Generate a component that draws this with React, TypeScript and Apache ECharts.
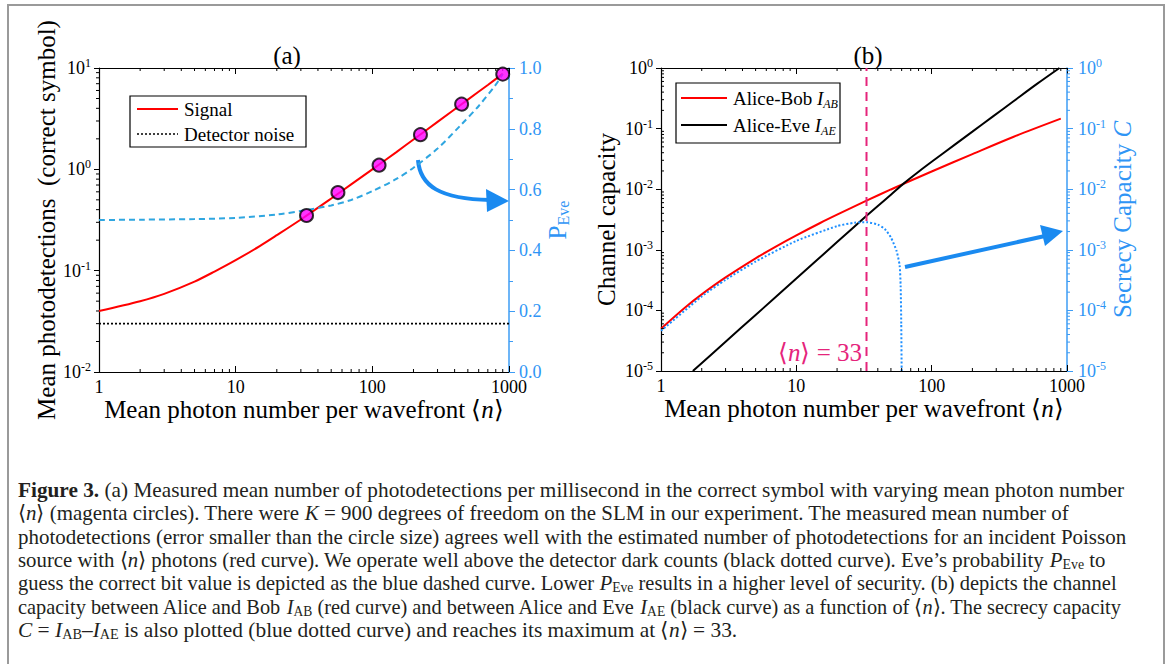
import React, { useEffect, useRef } from 'react';
import * as echarts from 'echarts';

const FONT = 'Liberation Serif';

// ---------- Panel (a) data ----------
const nSignal = [1, 2, 3, 5, 7, 10, 15, 20, 30, 50, 70, 100, 150, 200, 300, 500, 700, 900];
const signal = [0.04, 0.05, 0.059, 0.078, 0.098, 0.127, 0.175, 0.224, 0.32, 0.515, 0.71, 1.0, 1.48, 1.97, 2.94, 4.88, 6.8, 8.76];
const nMeasured = [33, 56, 112, 225, 450, 900];
const measured = [0.35, 0.59, 1.1, 2.2, 4.4, 8.7];
const nNoise = [1, 1000];
const noise = [0.03, 0.03];
const nEve = [1, 2, 5, 10, 20, 33, 50, 70, 100, 150, 200, 300, 450, 600, 800, 900];
const pEve = [0.5, 0.501, 0.503, 0.507, 0.518, 0.533, 0.548, 0.566, 0.595, 0.635, 0.672, 0.735, 0.815, 0.875, 0.945, 0.98];

// ---------- Panel (b) data ----------
const nAB = [1, 1.5, 2, 3, 5, 7, 10, 15, 20, 33, 50, 62.6, 100, 200, 400, 900];
const iAB = [5.0e-5, 1.11e-4, 1.84e-4, 3.5e-4, 7.24e-4, 1.12e-3, 1.73e-3, 2.77e-3, 3.8e-3, 6.47e-3, 9.9e-3, 0.0124, 0.0196, 0.038, 0.0728, 0.146];
const nAE = [1.72, 3, 5, 10, 20, 33, 50, 62.6, 80, 100, 150, 200, 284, 400, 600, 880];
const iAE = [1e-5, 3.04e-5, 8.4e-5, 3.35e-4, 1.34e-3, 3.63e-3, 8.1e-3, 0.0126, 0.0194, 0.0283, 0.0555, 0.0891, 0.159, 0.28, 0.546, 1.0];
const nC = [1, 2, 3, 5, 10, 20, 27, 33, 40, 45, 50, 55, 58, 59, 59.6, 60];
const secrecy = [4.6e-5, 1.7e-4, 3.2e-4, 6.4e-4, 1.4e-3, 2.46e-3, 2.8e-3, 2.85e-3, 2.6e-3, 2.2e-3, 1.6e-3, 9.6e-4, 5.5e-4, 2.5e-4, 6e-5, 1e-5];
const nPeak = 33;
const peakSpan = [1e-5, 1];

// ---------- ticks ----------
const xTickLabels = ['1', '10', '100', '1000'];
const minorMult = [2, 3, 4, 5, 6, 7, 8, 9];
const decadesX = [1, 10, 100];
const decadesYa = [0.01, 0.1, 1];
const decadesYb = [1e-5, 1e-4, 1e-3, 1e-2, 1e-1];

const BLUE_AX = '#3d9cf5';
const BLUE_TXT = '#2f95f5';

const expRich = (color: string) => ({
  b: { fontFamily: FONT, fontSize: 18, color, lineHeight: 22 },
  s: { fontFamily: FONT, fontSize: 12, color, verticalAlign: 'top', lineHeight: 12 },
});
const expFmt = (v: number) => `{b|10}{s|${Math.round(Math.log10(v))}}`;
const xFmt = (v: number) => xTickLabels[Math.round(Math.log10(v))] ?? '';

const minorVals = (dec: number[]) => dec.flatMap((d) => minorMult.map((m) => m * d));

function tickSeries(xi: number, yi: number, pts: number[][], dx: number, dy: number, color: string) {
  return {
    type: 'custom',
    xAxisIndex: xi,
    yAxisIndex: yi,
    silent: true,
    clip: false,
    z: 6,
    renderItem: (_p: any, api: any) => {
      const c = api.coord([api.value(0), api.value(1)]);
      return {
        type: 'line',
        shape: { x1: c[0], y1: c[1], x2: c[0] + dx, y2: c[1] + dy },
        style: { stroke: color, lineWidth: 1 },
      };
    },
    data: pts,
  };
}

const xName = {
  name: '{a|Mean photon number per wavefront ⟨}{i|n}{a|⟩}',
  nameLocation: 'middle',
  nameGap: 23,
  nameTextStyle: {
    fontFamily: FONT,
    rich: {
      a: { fontFamily: FONT, fontSize: 25, color: '#000' },
      i: { fontFamily: FONT, fontSize: 25, fontStyle: 'italic', color: '#000' },
    },
  },
};

function xAxisBottom(grid: number) {
  return {
    type: 'log', logBase: 10, gridIndex: grid, min: 1, max: 1000, position: 'bottom',
    axisLine: { show: true, lineStyle: { color: '#000', width: 1.2 } },
    axisTick: { show: true, inside: true, length: 6, lineStyle: { color: '#000' } },
    axisLabel: { formatter: xFmt, fontFamily: FONT, fontSize: 18, color: '#000', margin: 6 },
    splitLine: { show: false },
    ...xName,
  };
}
function xAxisTop(grid: number) {
  return {
    type: 'log', logBase: 10, gridIndex: grid, min: 1, max: 1000, position: 'top',
    axisLine: { show: true, lineStyle: { color: '#000', width: 1.2 } },
    axisTick: { show: true, inside: true, length: 6, lineStyle: { color: '#000' } },
    axisLabel: { show: false },
    splitLine: { show: false },
  };
}

const CAP = 21;
const capRich: any = {
  r: { fontSize: CAP, fontFamily: FONT, fill: '#231f20', lineHeight: 23 },
  b: { fontSize: CAP, fontFamily: FONT, fontWeight: 'bold', fill: '#231f20', lineHeight: 23 },
  i: { fontSize: CAP, fontFamily: FONT, fontStyle: 'italic', fill: '#231f20', lineHeight: 23 },
  s: { fontSize: 14, fontFamily: FONT, fill: '#231f20', lineHeight: 12, verticalAlign: 'bottom' },
};
const captionLines = [
  '{b|Figure 3.}{r| (a) Measured mean number of photodetections per millisecond in the correct symbol with varying mean photon number}',
  '{r|⟨}{i|n}{r|⟩ (magenta circles). There were }{i|K}{r| = 900 degrees of freedom on the SLM in our experiment. The measured mean number of}',
  '{r|photodetections (error smaller than the circle size) agrees well with the estimated number of photodetections for an incident Poisson}',
  '{r|source with ⟨}{i|n}{r|⟩ photons (red curve). We operate well above the detector dark counts (black dotted curve). Eve’s probability }{i|P}{s|Eve}{r| to}',
  '{r|guess the correct bit value is depicted as the blue dashed curve. Lower }{i|P}{s|Eve}{r| results in a higher level of security. (b) depicts the channel}',
  '{r|capacity between Alice and Bob }{i|I}{s|AB}{r| (red curve) and between Alice and Eve }{i|I}{s|AE}{r| (black curve) as a function of ⟨}{i|n}{r|⟩. The secrecy capacity}',
  '{i|C}{r| = }{i|I}{s|AB}{r|–}{i|I}{s|AE}{r| is also plotted (blue dotted curve) and reaches its maximum at ⟨}{i|n}{r|⟩ = 33.}',
];
const captionLeft = 18;
const captionRight = [1125, 1070, 1127, 1106, 1117, 1121, 737];

function richWidth(line: string, rich: any): number {
  const canvas = document.createElement('canvas');
  const ctx = canvas.getContext('2d');
  if (!ctx) return 0;
  let w = 0;
  const re = /\{(\w+)\|([^}]*)\}/g;
  let m: RegExpExecArray | null;
  while ((m = re.exec(line))) {
    const s = rich[m[1]];
    ctx.font = `${s.fontStyle || 'normal'} ${s.fontWeight || 'normal'} ${s.fontSize}px "${s.fontFamily}"`;
    w += ctx.measureText(m[2]).width;
  }
  return w;
}

function txt(x: number, y: number, text: string, size: number, extra: any = {}, align = 'left') {
  return {
    type: 'text', x, y, silent: true,
    style: {
      text, fontFamily: FONT, fontSize: size, fill: '#000',
      align, textAlign: align, verticalAlign: 'middle', textVerticalAlign: 'middle',
      ...extra,
    },
  };
}

export default function App() {
  const ref = useRef<HTMLDivElement>(null);
  useEffect(() => {
    const chart = echarts.init(ref.current!, null, { renderer: 'svg' });
    const legendRich = {
      a: { fontFamily: FONT, fontSize: 19, fill: '#000', lineHeight: 24 },
      i: { fontFamily: FONT, fontSize: 19, fontStyle: 'italic', fill: '#000', lineHeight: 24 },
      s: { fontFamily: FONT, fontSize: 12, fontStyle: 'italic', fill: '#000', lineHeight: 12, verticalAlign: 'bottom' },
    };
    const captionEls = captionLines.map((t, i) => {
      const w = richWidth(t, capRich);
      const sx = w > 0 ? (captionRight[i] - captionLeft) / w : 1;
      return {
        type: 'text', x: captionLeft, y: 490 + i * 23.33, scaleX: sx, silent: true,
        style: { text: t, rich: capRich, align: 'left', textAlign: 'left', verticalAlign: 'middle', textVerticalAlign: 'middle' },
      };
    });
    const option: any = {
      animation: false,
      backgroundColor: '#ffffff',
      textStyle: { fontFamily: FONT },
      grid: [
        { left: 99, top: 68, width: 410, height: 304, outerBoundsMode: 'none' },
        { left: 661, top: 68, width: 406, height: 303, outerBoundsMode: 'none' },
      ],
      xAxis: [xAxisBottom(0), xAxisTop(0), xAxisBottom(1), xAxisTop(1)],
      yAxis: [
        {
          type: 'log', logBase: 10, gridIndex: 0, min: 0.01, max: 10, position: 'left',
          axisLine: { show: true, lineStyle: { color: '#000', width: 1.2 } },
          axisTick: { show: true, inside: false, length: 5, lineStyle: { color: '#000' } },
          axisLabel: { formatter: expFmt, fontFamily: FONT, rich: expRich('#000'), margin: 8 },
          splitLine: { show: false },
          name: 'Mean photodetections  (correct symbol)',
          nameLocation: 'middle', nameGap: 40,
          nameTextStyle: { fontFamily: FONT, fontSize: 25, color: '#000' },
        },
        {
          type: 'value', gridIndex: 0, min: 0, max: 1, interval: 0.2, position: 'right',
          axisLine: { show: true, lineStyle: { color: BLUE_AX, width: 1.5 } },
          axisTick: { show: true, inside: false, length: 6, lineStyle: { color: BLUE_AX } },
          minorTick: { show: true, splitNumber: 2, length: 4, lineStyle: { color: BLUE_AX } },
          axisLabel: { formatter: (v: number) => v.toFixed(1), fontFamily: FONT, fontSize: 18, color: BLUE_TXT, margin: 10 },
          splitLine: { show: false },
          name: '{p|P}{s|Eve}',
          nameLocation: 'middle', nameGap: 34,
          nameTextStyle: {
            fontFamily: FONT,
            rich: {
              p: { fontFamily: FONT, fontSize: 25, color: BLUE_TXT, lineHeight: 28 },
              s: { fontFamily: FONT, fontSize: 16, color: BLUE_TXT, verticalAlign: 'bottom', lineHeight: 14 },
            },
          },
        },
        {
          type: 'log', logBase: 10, gridIndex: 1, min: 1e-5, max: 1, position: 'left',
          axisLine: { show: true, lineStyle: { color: '#000', width: 1.2 } },
          axisTick: { show: true, inside: false, length: 5, lineStyle: { color: '#000' } },
          axisLabel: { formatter: expFmt, fontFamily: FONT, rich: expRich('#000'), margin: 8 },
          splitLine: { show: false },
          name: 'Channel capacity',
          nameLocation: 'middle', nameGap: 42,
          nameTextStyle: { fontFamily: FONT, fontSize: 25, color: '#000' },
        },
        {
          type: 'log', logBase: 10, gridIndex: 1, min: 1e-5, max: 1, position: 'right',
          axisLine: { show: true, lineStyle: { color: BLUE_AX, width: 1.5 } },
          axisTick: { show: true, inside: false, length: 6, lineStyle: { color: BLUE_AX } },
          axisLabel: { formatter: expFmt, fontFamily: FONT, rich: expRich(BLUE_TXT), margin: 11 },
          splitLine: { show: false },
          name: '{a|Secrecy Capacity }{i|C}',
          nameLocation: 'middle', nameGap: 42,
          nameTextStyle: {
            fontFamily: FONT,
            rich: {
              a: { fontFamily: FONT, fontSize: 25, color: BLUE_TXT },
              i: { fontFamily: FONT, fontSize: 25, fontStyle: 'italic', color: BLUE_TXT },
            },
          },
        },
      ],
      series: [
        {
          type: 'line', name: 'Detector noise', xAxisIndex: 0, yAxisIndex: 0,
          data: nNoise.map((n, i) => [n, noise[i]]), showSymbol: false,
          lineStyle: { color: '#000', width: 1.6, type: [2, 2] }, z: 2,
        },
        {
          type: 'line', name: 'Signal', xAxisIndex: 0, yAxisIndex: 0,
          data: nSignal.map((n, i) => [n, signal[i]]), showSymbol: false, smooth: 0.3,
          lineStyle: { color: '#ff0000', width: 2 }, z: 3,
        },
        {
          type: 'line', name: 'PEve', xAxisIndex: 0, yAxisIndex: 1,
          data: nEve.map((n, i) => [n, pEve[i]]), showSymbol: false, smooth: 0.3,
          lineStyle: { color: '#2fa6e0', width: 2, type: [6, 4] }, z: 4,
        },
        {
          type: 'scatter', name: 'Measured', xAxisIndex: 0, yAxisIndex: 0,
          data: nMeasured.map((n, i) => [n, measured[i]]), symbol: 'circle', symbolSize: 13,
          itemStyle: { color: '#ff00ff', borderColor: '#000', borderWidth: 2 }, z: 10,
        },
        {
          type: 'line', name: 'Alice-Bob', xAxisIndex: 2, yAxisIndex: 2,
          data: nAB.map((n, i) => [n, iAB[i]]), showSymbol: false, smooth: 0.3,
          lineStyle: { color: '#ff0000', width: 2 }, z: 3,
        },
        {
          type: 'line', name: 'Alice-Eve', xAxisIndex: 2, yAxisIndex: 2,
          data: nAE.map((n, i) => [n, iAE[i]]), showSymbol: false, smooth: 0.3,
          lineStyle: { color: '#000', width: 2 }, z: 3,
        },
        {
          type: 'line', name: 'Secrecy', xAxisIndex: 2, yAxisIndex: 3,
          data: nC.map((n, i) => [n, secrecy[i]]), showSymbol: false, smooth: 0.2,
          lineStyle: { color: '#1e8fff', width: 2, type: 'dotted' }, z: 4,
        },
        {
          type: 'line', name: 'Peak', xAxisIndex: 2, yAxisIndex: 2,
          data: peakSpan.map((v) => [nPeak, v]), showSymbol: false,
          lineStyle: { color: '#e5247b', width: 2, type: [9, 6] }, z: 5,
        },
        tickSeries(0, 0, minorVals(decadesX).map((v) => [v, 0.01]), 0, -3, '#000'),
        tickSeries(0, 0, minorVals(decadesX).map((v) => [v, 10]), 0, 3, '#000'),
        tickSeries(0, 0, minorVals(decadesYa).map((v) => [1, v]), -3, 0, '#000'),
        tickSeries(2, 2, minorVals(decadesX).map((v) => [v, 1e-5]), 0, -3, '#000'),
        tickSeries(2, 2, minorVals(decadesX).map((v) => [v, 1]), 0, 3, '#000'),
        tickSeries(2, 2, minorVals(decadesYb).map((v) => [1, v]), 3, 0, '#000'),
        tickSeries(2, 3, minorVals(decadesYb).map((v) => [1000, v]), 3, 0, BLUE_AX),
      ],
      graphic: [
        {
          type: 'rect', silent: true, z: -1,
          shape: { x: 8, y: 5, width: 1156, height: 700 },
          style: { fill: 'none', stroke: '#9a9a9a', lineWidth: 2 },
        },
        txt(287, 55, '(a)', 25, {}, 'center'),
        txt(868, 55, '(b)', 25, {}, 'center'),
        // legend (a)
        { type: 'rect', silent: true, shape: { x: 130, y: 96, width: 176, height: 51 }, style: { fill: '#fff', stroke: '#000', lineWidth: 1.2 } },
        { type: 'line', silent: true, shape: { x1: 137, y1: 109, x2: 178, y2: 109 }, style: { stroke: '#ff0000', lineWidth: 2 } },
        { type: 'line', silent: true, shape: { x1: 137, y1: 134, x2: 178, y2: 134 }, style: { stroke: '#000', lineWidth: 1.6, lineDash: [2, 2] } },
        txt(184, 109, 'Signal', 19),
        txt(184, 134, 'Detector noise', 19),
        // legend (b)
        { type: 'rect', silent: true, shape: { x: 676, y: 83, width: 164, height: 60 }, style: { fill: '#fff', stroke: '#000', lineWidth: 1.2 } },
        { type: 'line', silent: true, shape: { x1: 681, y1: 98, x2: 727, y2: 98 }, style: { stroke: '#ff0000', lineWidth: 2 } },
        { type: 'line', silent: true, shape: { x1: 681, y1: 125, x2: 727, y2: 125 }, style: { stroke: '#000', lineWidth: 2 } },
        txt(733, 98, '{a|Alice-Bob }{i|I}{s|AB}', 19, { rich: legendRich }),
        txt(733, 125, '{a|Alice-Eve }{i|I}{s|AE}', 19, { rich: legendRich }),
        // annotation <n> = 33
        txt(820, 352, '{a|⟨}{i|n}{a|⟩ = 33}', 25, {
          rich: {
            a: { fontFamily: FONT, fontSize: 25, fill: '#e5247b' },
            i: { fontFamily: FONT, fontSize: 25, fontStyle: 'italic', fill: '#e5247b' },
          },
        }, 'center'),
        // arrow (a)
        {
          type: 'bezierCurve', silent: true,
          shape: { x1: 418, y1: 160, cpx1: 420, cpy1: 186, cpx2: 440, cpy2: 199, x2: 490, y2: 200 },
          style: { stroke: '#1a8af0', lineWidth: 4, fill: 'none' },
        },
        { type: 'polygon', silent: true, shape: { points: [[509, 201], [486, 189], [487, 212]] }, style: { fill: '#1a8af0' } },
        // arrow (b)
        { type: 'line', silent: true, shape: { x1: 905, y1: 267, x2: 1045, y2: 236 }, style: { stroke: '#1a8af0', lineWidth: 4 } },
        { type: 'polygon', silent: true, shape: { points: [[1063, 231], [1040, 225], [1045, 246]] }, style: { fill: '#1a8af0' } },
        // caption
        ...captionEls,
      ],
    };
    chart.setOption(option);
    return () => chart.dispose();
  }, []);
  return (
    <div
      ref={ref}
      style={{ position: 'fixed', left: 0, top: 0, width: 1171, height: 664, background: '#fff' }}
    />
  );
}
